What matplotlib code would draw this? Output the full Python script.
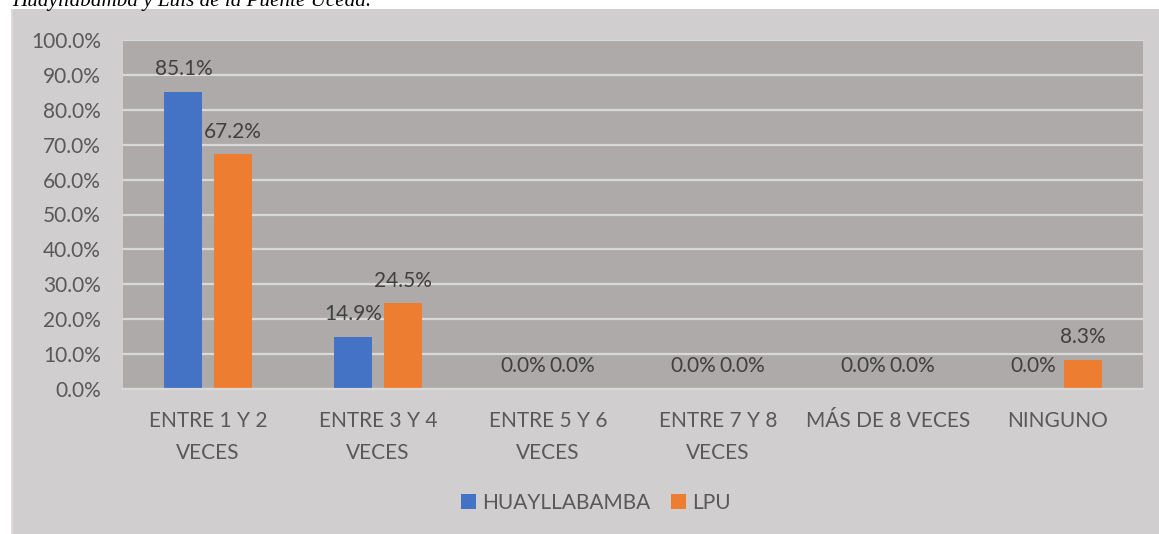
import matplotlib
matplotlib.use("Agg")
import matplotlib.pyplot as plt
import numpy as np
from matplotlib.patches import Rectangle

plt.rcParams['font.family'] = ['Lato', 'DejaVu Sans']

categories = ["ENTRE 1 Y 2\nVECES", "ENTRE 3 Y 4\nVECES", "ENTRE 5 Y 6\nVECES",
              "ENTRE 7 Y 8\nVECES", "MÁS DE 8 VECES", "NINGUNO"]
huayllabamba = [85.1, 14.9, 0.0, 0.0, 0.0, 0.0]
lpu = [67.2, 24.5, 0.0, 0.0, 0.0, 8.3]
series_names = ["HUAYLLABAMBA", "LPU"]
yticks = [0, 10, 20, 30, 40, 50, 60, 70, 80, 90, 100]

W, H = 1159, 534
fig = plt.figure(figsize=(W / 100, H / 100), dpi=100)
fig.patch.set_facecolor("white")

# chart frame
fig.patches.append(Rectangle((11 / W, 0), 1 - 11 / W, 1 - 9 / H, transform=fig.transFigure,
                             facecolor="#D0CECE", edgecolor="none", zorder=-10))
fig.patches.append(Rectangle((11 / W, 0), 1.5 / W, 1 - 9 / H, transform=fig.transFigure,
                             facecolor="#DCDADA", edgecolor="none", zorder=-9))

# caption line above the chart
fig.text(12 / W, 1 - 6 / H, "Huayllabamba y Luis de la Puente Uceda.",
         family="Liberation Serif", style="italic", fontsize=15.2,
         color="black", va="baseline", ha="left")

left, right, top, bottom = 123, 1143, 40, 389
ax = fig.add_axes([left / W, 1 - bottom / H, (right - left) / W, (bottom - top) / H])
ax.set_facecolor("#AEAAAA")

FS = 15
x = np.arange(len(categories))
bw = 0.224
gap = 0.065
off = (bw + gap) / 2
b1 = ax.bar(x - off, huayllabamba, bw, color="#4472C4", label=series_names[0], zorder=3)
b2 = ax.bar(x + off, lpu, bw, color="#ED7D31", label=series_names[1], zorder=3)

for bars, vals in ((b1, huayllabamba), (b2, lpu)):
    for rect, v in zip(bars, vals):
        ax.annotate(f"{v:.1f}%", (rect.get_x() + rect.get_width() / 2, v),
                    xytext=(0, 12.2), textcoords="offset points",
                    ha="center", va="baseline", fontsize=FS, color="#404040",
                    zorder=5, annotation_clip=False)

ax.set_xlim(-0.5, len(categories) - 0.5)
ax.set_ylim(0, 100)
ax.set_yticks(yticks)
ax.set_yticklabels([f"{t:.1f}%" for t in yticks])
ax.set_xticks(x)
ax.set_xticklabels(categories, linespacing=1.72)
ax.tick_params(axis="y", length=0, pad=16, labelsize=FS, labelcolor="#595959")
ax.tick_params(axis="x", length=0, pad=16, labelsize=FS, labelcolor="#595959")

ax.grid(axis="y", color="#D9D9D9", linewidth=1.6, zorder=1)
for s in ("left", "right", "top"):
    ax.spines[s].set_visible(False)
ax.spines["bottom"].set_color("#D9D9D9")
ax.spines["bottom"].set_linewidth(1.6)
ax.spines["bottom"].set_zorder(4)

fig.legend(handles=[b1, b2], labels=series_names, loc="center",
           bbox_to_anchor=(596 / W, 1 - 503 / H), ncol=2, frameon=False,
           fontsize=FS, labelcolor="#595959", handlelength=0.7, handleheight=0.7,
           handletextpad=0.3, columnspacing=1.0)

fig.savefig("out.png", dpi=100, facecolor=fig.get_facecolor())
